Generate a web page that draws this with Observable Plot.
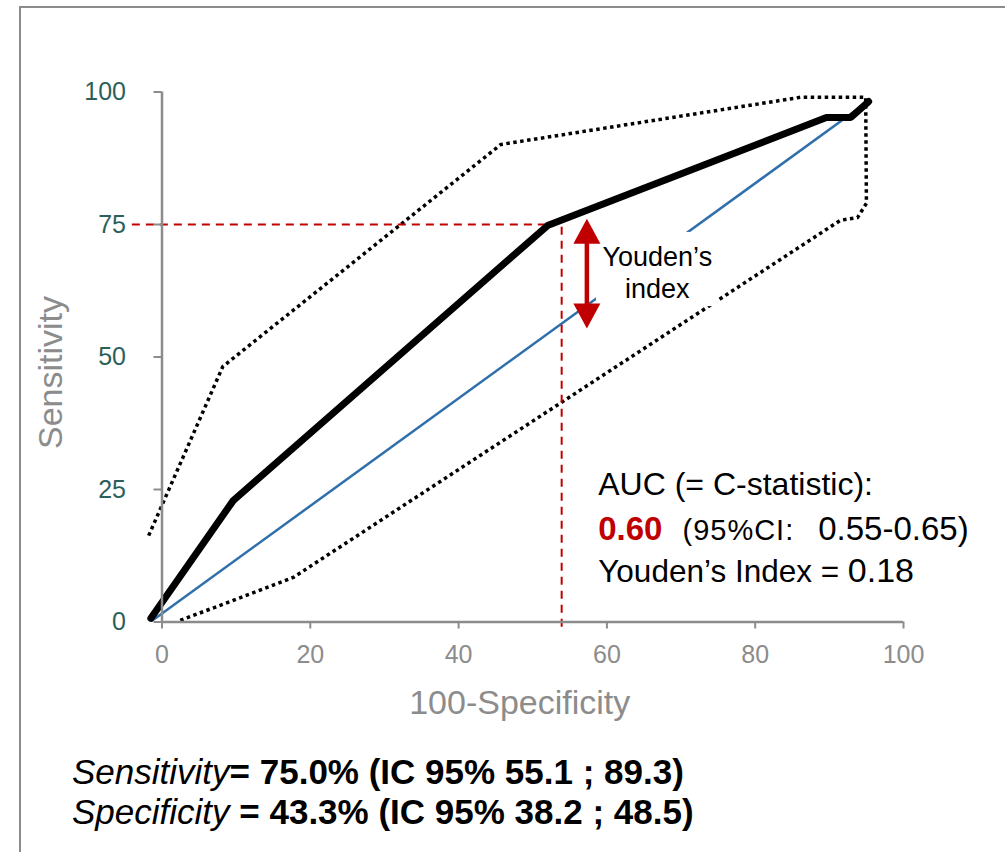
<!DOCTYPE html>
<html><head><meta charset="utf-8">
<script src="https://cdn.jsdelivr.net/npm/d3@7"></script>
<script src="https://cdn.jsdelivr.net/npm/@observablehq/plot@0.6"></script>
<style>
html,body{margin:0;padding:0;background:#fff;overflow:hidden;width:1005px;height:852px;}
#frame{position:absolute;left:19px;top:6px;width:1200px;height:1200px;border:2px solid #8c8c8c;box-sizing:border-box;}
#chart{position:absolute;left:0;top:0;}
#caption{position:absolute;left:72px;top:752px;font-family:"Liberation Sans",Arial,sans-serif;font-size:35px;line-height:40px;color:#000;white-space:nowrap;}
#caption i{font-style:italic;font-weight:normal}
#caption b{font-weight:bold}
</style></head><body>
<div id="frame"></div>
<div id="chart"></div>
<div id="caption"></div>
<script>
// ---- data ----
const rocX = [-1.5, 9.6, 52.0, 89.6, 92.9, 95.3];
const rocY = [0.7, 22.9, 74.8, 95.2, 95.2, 98.2];
const chanceX = [-1.3, 95.3];
const chanceY = [0.3, 98.3];
const ciX = [-1.8, 8.2, 45.7, 86.1, 94.9, 95.0, 93.8, 91.5, 17.7, 2.1];
const ciY = [16.3, 48.2, 90.1, 99.0, 99.0, 79.0, 76.3, 75.8, 8.4, 0.1];
const cutX = [53.9];
const cutY = [75];
const cutHorizFrom = [-4];
const cutHorizTo = [52];
const cutVertFrom = [-1];
const youdenArrowX = [57.3];
const youdenArrowLow = [55.4];
const youdenArrowHigh = [76.1];
const youdenLabel = ["Youden’s\nindex"];
const youdenLabelX = [66.8];
const youdenLabelY = [66];
const labelBoxX = [58.6, 75];
const labelBoxY = [59.5, 73.5];
const xTicks = [0, 20, 40, 60, 80, 100];
const yTicks = [0, 25, 50, 75, 100];
const xTitle = ["100-Specificity"];
const yTitle = ["Sensitivity"];
const aucTitle = "AUC (= C-statistic):";
const aucValue = "0.60";
const aucCiLabel = "(95%CI:";
const aucCi = "0.55-0.65)";
const youdenIndexLabel = "Youden’s Index = ";
const youdenIndexValue = "0.18";
const aucTextPos = [58.9, 23.9];
const sensLine = ["Sensitivity", "= 75.0% (IC 95% 55.1 ; 89.3)"];
const specLine = ["Specificity ", "= 43.3% (IC 95% 38.2 ; 48.5)"];

// ---- tables ----
const roc = rocX.map((x, i) => ({x, y: rocY[i]}));
const chance = chanceX.map((x, i) => ({x, y: chanceY[i]}));
const ci = ciX.map((x, i) => ({x, y: ciY[i]}));
const cutH = cutY.map((y, i) => ({y, x1: cutHorizFrom[i], x2: cutHorizTo[i]}));
const cutV = cutX.map((x, i) => ({x, y1: cutVertFrom[i], y2: cutY[i]}));
const arrow = youdenArrowX.map((x, i) => ({x, low: youdenArrowLow[i], high: youdenArrowHigh[i]}));
const box = [{x1: labelBoxX[0], x2: labelBoxX[1], y1: labelBoxY[0], y2: labelBoxY[1]}];
const ylab = youdenLabel.map((t, i) => ({t, x: youdenLabelX[i], y: youdenLabelY[i]}));

const grey = "#8c8c8c";
const red = "#c00000";
const teal = "#2d5f5a";

// arrowhead symbol: tip at the anchor point, pointing up
const arrowHead = {
  draw(context) {
    context.moveTo(0, 0);
    context.lineTo(-13.5, 25);
    context.lineTo(13.5, 25);
    context.closePath();
  }
};

const plot = Plot.plot({
  width: 1005,
  height: 740,
  marginLeft: 161.5,
  marginRight: 102,
  marginTop: 91.5,
  marginBottom: 118.5,
  style: {fontFamily: "'Liberation Sans', Arial, sans-serif", background: "transparent"},
  x: {domain: [0, 100]},
  y: {domain: [0, 100]},
  marks: [
    Plot.line(chance, {x: "x", y: "y", stroke: "#2f6fab", strokeWidth: 2.5}),
    Plot.line(ci, {x: "x", y: "y", stroke: "black", strokeWidth: 3.5, strokeDasharray: "3.5,3.5", strokeLinecap: "butt"}),
    Plot.rect(box, {x1: "x1", x2: "x2", y1: "y1", y2: "y2", fill: "white"}),
    Plot.ruleY(cutH, {y: "y", x1: "x1", x2: "x2", stroke: red, strokeWidth: 2, strokeDasharray: "8,6"}),
    Plot.ruleX(cutV, {x: "x", y1: "y1", y2: "y2", stroke: red, strokeWidth: 2, strokeDasharray: "8,6"}),
    Plot.line(roc, {x: "x", y: "y", stroke: "black", strokeWidth: 7, strokeLinejoin: "miter"}),
    Plot.ruleX(arrow, {x: "x", y1: "high", y2: "low", stroke: red, strokeWidth: 4.5, insetTop: 20, insetBottom: 20}),
    Plot.dot(arrow, {x: "x", y: "high", symbol: arrowHead, r: 10, fill: red, stroke: null}),
    Plot.dot(arrow, {x: "x", y: "low", symbol: arrowHead, r: 10, fill: red, stroke: null, rotate: 180}),
    Plot.text(ylab, {x: "x", y: "y", text: "t", fontSize: 27, fill: "black", lineHeight: 1.18}),
    Plot.ruleY([0], {x1: 0, x2: 100, stroke: grey, strokeWidth: 2.5}),
    Plot.ruleX([0], {y1: 0, y2: 100, stroke: grey, strokeWidth: 2.5}),
    Plot.axisX(xTicks, {tickSize: 7, tickPadding: 16, fontSize: 25, stroke: grey, fill: grey, strokeWidth: 2, label: null}),
    Plot.axisY(yTicks, {tickSize: 8, tickPadding: 28, fontSize: 25, stroke: grey, fill: teal, strokeWidth: 2, label: null}),
    Plot.text(xTitle, {frameAnchor: "bottom", lineAnchor: "bottom", dx: -13, dy: 92, fontSize: 34, fill: grey}),
    Plot.text(yTitle, {frameAnchor: "left", textAnchor: "middle", lineAnchor: "middle", rotate: -90, dx: -111, dy: 15.5, fontSize: 34, fill: grey})
  ]
});
document.getElementById("chart").appendChild(plot);

// AUC annotation with mixed styles, positioned through the plot's scales
const sx = plot.scale("x"), sy = plot.scale("y");
const ax = sx.apply(aucTextPos[0]), ay = sy.apply(aucTextPos[1]);
const t = d3.select(plot).append("text")
  .attr("x", ax).attr("y", ay)
  .attr("text-anchor", "start")
  .attr("font-family", "'Liberation Sans', Arial, sans-serif")
  .attr("fill", "black");
t.append("tspan").attr("font-size", 32).text(aucTitle);
t.append("tspan").attr("x", ax).attr("dy", 45).attr("font-size", 33).attr("font-weight", "bold").attr("fill", red).text(aucValue);
t.append("tspan").attr("dx", 20).attr("font-size", 29).attr("letter-spacing", 1).text(aucCiLabel);
t.append("tspan").attr("dx", 24).attr("font-size", 33).text(aucCi);
t.append("tspan").attr("x", ax).attr("dy", 42).attr("font-size", 31.5).text(youdenIndexLabel.replace(/ /g, "\u00a0"));
t.append("tspan").attr("font-size", 34).text(youdenIndexValue);

// caption below the chart
const cap = d3.select("#caption");
const l1 = cap.append("div");
l1.append("i").text(sensLine[0]);
l1.append("b").text(sensLine[1]);
const l2 = cap.append("div");
l2.append("i").text(specLine[0]);
l2.append("b").text(specLine[1]);
</script>
</body></html>
